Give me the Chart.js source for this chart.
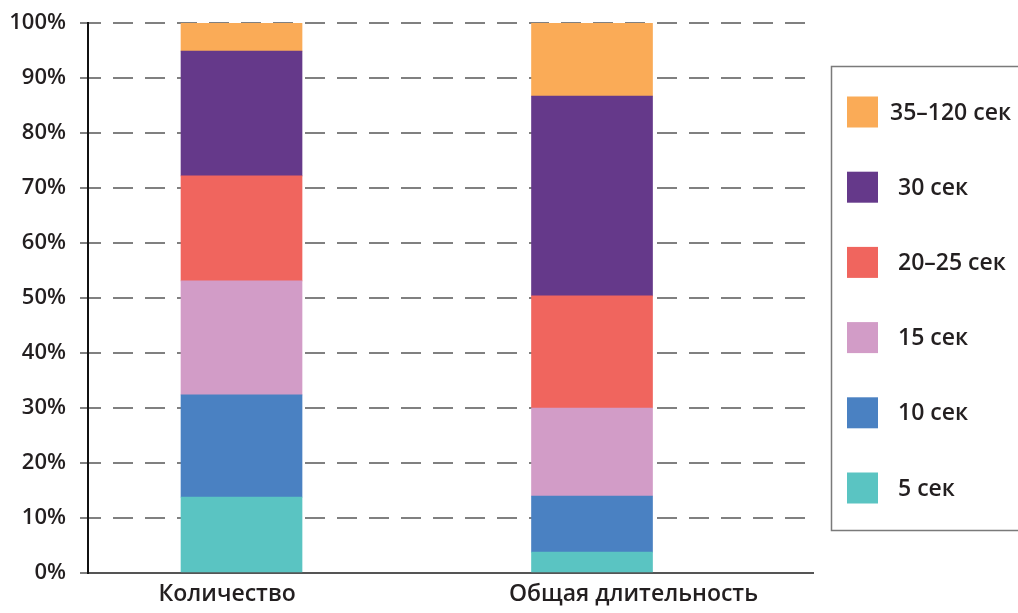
<!DOCTYPE html>
<html>
<head>
<meta charset="utf-8">
<script src="https://cdn.jsdelivr.net/npm/chart.js@4/dist/chart.umd.min.js"></script>
<style>
  html, body { margin: 0; padding: 0; background: #ffffff; }
  #wrap { width: 1018px; height: 613px; position: relative; }
</style>
</head>
<body>
<div id="wrap"><canvas id="chart" width="1018" height="613"></canvas></div>
<script>
// Categories along the x axis
const categories = ['Количество', 'Общая длительность'];

// Segment labels (bottom to top) and colours
const seriesLabels = ['5 сек', '10 сек', '15 сек', '20–25 сек', '30 сек', '35–120 сек'];
const seriesColors = ['#5AC4C2', '#4A81C2', '#D29CC7', '#F0655E', '#65398A', '#FAAB57'];

// Share of each segment, % (first value: Количество, second: Общая длительность)
const sec5    = [13.8, 3.8];
const sec10   = [18.6, 10.2];
const sec15   = [20.7, 16.0];
const sec20   = [19.1, 20.4];
const sec30   = [22.7, 36.3];
const sec35   = [5.1, 13.3];

// Y axis tick values
const yTicks = [0, 10, 20, 30, 40, 50, 60, 70, 80, 90, 100];

const seriesValues = [sec5, sec10, sec15, sec20, sec30, sec35];

const FONT = 'Open Sans';
const TEXT = '#231f20';

const datasets = seriesLabels.map((label, i) => ({
  label,
  data: seriesValues[i].map((v, j) => ({ x: j, y: v })),
  backgroundColor: seriesColors[i],
  borderWidth: 0,
  barThickness: 121
}));

// Boxed legend on the right, listed top segment first
const boxedLegend = {
  id: 'boxedLegend',
  afterDraw(chart) {
    const ctx = chart.ctx;
    ctx.save();
    ctx.strokeStyle = '#7a7a7a';
    ctx.lineWidth = 1.5;
    ctx.strokeRect(831.5, 66.5, 240, 464);
    const ds = chart.data.datasets.slice().reverse();
    ctx.font = '600 23px "' + FONT + '"';
    ctx.textBaseline = 'middle';
    ds.forEach((d, i) => {
      const cy = 112 + i * 75.2;
      ctx.fillStyle = d.backgroundColor;
      ctx.fillRect(847, cy - 15.5, 31, 31);
      ctx.fillStyle = TEXT;
      ctx.fillText(d.label, i === 0 ? 890 : 898, cy + 1);
    });
    ctx.restore();
  }
};

new Chart(document.getElementById('chart'), {
  type: 'bar',
  data: { datasets },
  plugins: [boxedLegend],
  options: {
    responsive: false,
    animation: false,
    events: [],
    layout: { padding: { top: 23, right: 205, bottom: 0, left: 0 } },
    plugins: {
      legend: { display: false },
      tooltip: { enabled: false }
    },
    scales: {
      x: {
        type: 'linear',
        stacked: true,
        offset: false,
        bounds: 'data',
        min: -0.438,
        max: 1.6305,
        afterBuildTicks: s => { s.ticks = categories.map((c, i) => ({ value: i })); },
        afterFit: s => { s.height = 40; },
        grid: { display: false, drawTicks: false, offset: false },
        border: { display: true, color: '#555555', width: 2 },
        ticks: {
          align: 'start',
          labelOffset: -83,
          padding: 8,
          autoSkip: false,
          maxRotation: 0,
          color: TEXT,
          font: { family: FONT, size: 23, weight: '600' },
          callback: v => categories[v] ?? ''
        }
      },
      y: {
        stacked: true,
        min: 0,
        max: 100,
        afterBuildTicks: s => { s.ticks = yTicks.map(v => ({ value: v })); },
        afterFit: s => { s.width = 88; s.paddingTop = 0; s.paddingBottom = 0; },
        border: { display: true, color: '#111111', width: 2, dash: [20, 12], dashOffset: 8 },
        grid: {
          color: c => (c.tick && c.tick.value === 0) ? 'rgba(0,0,0,0)' : '#808080',
          tickColor: '#808080',
          lineWidth: 2,
          tickLength: 8
        },
        ticks: {
          padding: 14,
          color: TEXT,
          font: { family: FONT, size: 22, weight: '600' },
          callback: v => v + '%'
        }
      }
    }
  }
});
</script>
</body>
</html>
